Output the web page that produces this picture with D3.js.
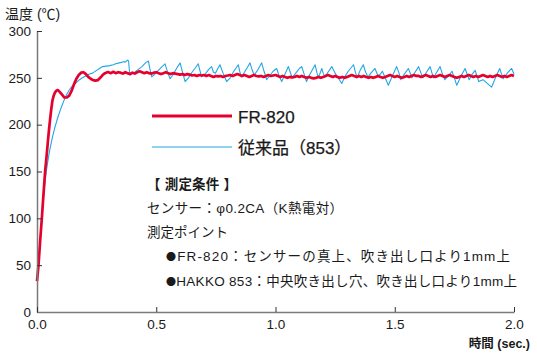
<!DOCTYPE html>
<html>
<head>
<meta charset="utf-8">
<script src="https://cdn.jsdelivr.net/npm/d3@7"></script>
<style>
  html, body { margin: 0; padding: 0; background: #fff; }
  svg { display: block; }
  text { font-family: "Liberation Sans", Arial, "Noto Sans CJK JP", sans-serif; fill: #1a1a1a; }
</style>
</head>
<body>
<svg id="chart" width="537" height="354"></svg>
<script>
// ---------------- data ----------------
const yTicks = [0, 50, 100, 150, 200, 250, 300];
const xTicks = [0, 0.5, 1.0, 1.5, 2.0];
const yTitle = "温度 (℃)";
const xTitle = "時間 (sec.)";
const seriesNames = ["FR-820", "従来品（853）"];

// FR-820 : warm-up part as [time(s), temp]
const redStart = [
  [0, 33], [0.006, 49], [0.013, 75], [0.02, 99], [0.027, 125], [0.034, 150],
  [0.04, 166], [0.045, 180], [0.05, 194], [0.055, 206], [0.06, 217], [0.065, 226],
  [0.07, 231], [0.075, 234], [0.08, 236], [0.087, 237], [0.095, 235], [0.105, 232],
  [0.115, 229], [0.125, 229], [0.135, 231], [0.145, 236], [0.155, 243], [0.165, 249],
  [0.175, 253], [0.185, 255.5], [0.195, 256], [0.205, 254], [0.215, 251], [0.225, 249],
  [0.235, 247.5], [0.245, 247], [0.255, 247.5], [0.265, 250], [0.275, 253], [0.285, 255],
  [0.295, 256]
];
// FR-820 : steady part, sampled every 0.01 s from 0.30 s to 2.00 s
const redTailStart = 0.30, redTailStep = 0.01;
const redTail = [
  256,255,256.5,255,256,255.5,254.5,256,255,254,
  255.5,254.5,256,257,256,255,256,255,254.5,255.5,
  256,255,254,255,256,255,254,255,254.5,254,
  253.5,254,253,254,253.5,252.5,253,252,253,252.5,
  253,252,253,252,251,252,251.5,252,251,252,
  252.5,253,252,253,254,253,252,253,252,251,
  252,253,252,251.5,252,251,252,253,252,252.5,
  253,252,251,252,251,250,251,250.5,251,252,
  251,252,251,250,251,250,249.5,250,251,250,
  251,252,253,252,251,252,251,250,251,250,
  251,252,253,252,251,252,251,252,251,250,
  251,250,251,252,251,250,251,252,253,252,
  251,252,251,250,251,252,251,252,253,252,
  252,251,252,253,252,251,252,251,252,253,
  252,251,252,253,252,251,250,251,252,251,
  252,253,252,251,252,251,252,253,252,251,
  252,251,252,253,252,251,252,251,252,253,
  252
];
// 従来品 (853) : [time(s), temp]
const blue = [
  [0, 33], [0.006, 49], [0.013, 75], [0.02, 99], [0.027, 122], [0.034, 140], [0.04, 152],
  [0.048, 165], [0.055, 175], [0.065, 187], [0.075, 197], [0.085, 206], [0.097, 215],
  [0.11, 224], [0.122, 231], [0.135, 237], [0.15, 242], [0.165, 245], [0.178, 248],
  [0.19, 250], [0.205, 252], [0.22, 254], [0.233, 255], [0.25, 258], [0.262, 260],
  [0.275, 262], [0.29, 262.5], [0.305, 263], [0.32, 264], [0.33, 265], [0.345, 266],
  [0.36, 267], [0.372, 267], [0.38, 269], [0.384, 268], [0.389, 253], [0.395, 254],
  [0.41, 256], [0.425, 259], [0.44, 262], [0.455, 266], [0.467, 268], [0.473, 260],
  [0.481, 251], [0.49, 253], [0.505, 257], [0.52, 261], [0.537, 265], [0.545, 258],
  [0.558, 249], [0.57, 253], [0.585, 260], [0.6, 266], [0.608, 258], [0.621, 246],
  [0.635, 250], [0.65, 256], [0.665, 261], [0.676, 265], [0.683, 258], [0.69, 251],
  [0.705, 254], [0.72, 259], [0.732, 262], [0.74, 256], [0.748, 255], [0.758, 260],
  [0.767, 264], [0.78, 255], [0.795, 246], [0.81, 250], [0.825, 257], [0.844, 264],
  [0.85, 257], [0.856, 251], [0.87, 256], [0.882, 261], [0.893, 266], [0.9, 260],
  [0.91, 253], [0.925, 258], [0.942, 266], [0.952, 257], [0.963, 248], [0.975, 252],
  [0.99, 257], [1.005, 260], [1.015, 252], [1.026, 246], [1.04, 254], [1.054, 262],
  [1.062, 256], [1.07, 250], [1.085, 255], [1.1, 260], [1.11, 262], [1.12, 254],
  [1.13, 246], [1.145, 254], [1.166, 264], [1.173, 256], [1.18, 250], [1.194, 260],
  [1.2, 255], [1.207, 251], [1.22, 256], [1.236, 262], [1.25, 255], [1.265, 249],
  [1.278, 244], [1.29, 251], [1.305, 257], [1.327, 264], [1.335, 256], [1.342, 250],
  [1.355, 258], [1.368, 264], [1.378, 256], [1.388, 251], [1.4, 255], [1.417, 260],
  [1.43, 252], [1.44, 254], [1.448, 257], [1.46, 250], [1.473, 242], [1.49, 252],
  [1.508, 262], [1.518, 255], [1.525, 248], [1.54, 254], [1.557, 260], [1.565, 255],
  [1.572, 250], [1.585, 256], [1.6, 262], [1.61, 255], [1.618, 250], [1.633, 256],
  [1.648, 262], [1.655, 256], [1.662, 250], [1.676, 256], [1.69, 262], [1.7, 254],
  [1.71, 248], [1.725, 252], [1.74, 257], [1.75, 250], [1.76, 242], [1.778, 252],
  [1.795, 260], [1.805, 253], [1.812, 248], [1.825, 254], [1.837, 258], [1.845, 252],
  [1.852, 246], [1.87, 248], [1.888, 244], [1.906, 240], [1.922, 250], [1.94, 260],
  [1.948, 254], [1.955, 249], [1.972, 255], [1.99, 260], [2.0, 254]
];
const noteBullets = ["", "", "", "●", "●"];
const noteLines = [
  "【 測定条件 】",
  "センサー：φ0.2CA（K熱電対）",
  "測定ポイント",
  "FR-820：センサーの真上、吹き出し口より1mm上",
  "HAKKO 853：中央吹き出し穴、吹き出し口より1mm上"
];

// ---------------- drawing ----------------
const RED = "#e5002e", BLUE = "#22a6e6", AXIS = "#7a7a7a";
const svg = d3.select("#chart");
const x = d3.scaleLinear().domain([0, 2]).range([37, 514]);
const y = d3.scaleLinear().domain([0, 300]).range([312, 31]);

const red = redStart.concat(redTail.map((v, i) => [redTailStart + i * redTailStep, v]));

const line = d3.line().x(d => x(d[0])).y(d => y(d[1]));

svg.append("path").datum(blue)
  .attr("d", line).attr("fill", "none")
  .attr("stroke", BLUE).attr("stroke-width", 1.1).attr("stroke-linejoin", "round");
svg.append("path").datum(red)
  .attr("d", line).attr("fill", "none")
  .attr("stroke", RED).attr("stroke-width", 2.7).attr("stroke-linejoin", "round");

// axes
const yAxis = d3.axisLeft(y).tickValues(yTicks).tickSizeInner(-5).tickSizeOuter(0).tickPadding(6);
const xAxis = d3.axisBottom(x).tickValues(xTicks).tickSizeInner(-5).tickSizeOuter(0).tickPadding(6)
  .tickFormat(d3.format(".1f"));

const gy = svg.append("g").attr("transform", `translate(${x(0)},0)`).call(yAxis);
const gx = svg.append("g").attr("transform", `translate(0,${y(0)})`).call(xAxis);
[gx, gy].forEach(g => {
  g.select(".domain").attr("stroke", AXIS).attr("stroke-width", 1.5);
  g.selectAll(".tick line").attr("stroke", "#333").attr("stroke-width", 1);
  g.selectAll(".tick text").attr("font-size", 13.5).attr("fill", "#1a1a1a")
    .attr("font-family", '"Liberation Sans", Arial, sans-serif');
});
gx.selectAll(".tick text").attr("dy", "0.78em");

// titles
svg.append("text").attr("x", 5).attr("y", 19).attr("font-size", 14).text(yTitle);
svg.append("text").attr("x", 530).attr("y", 348).attr("text-anchor", "end")
  .attr("font-size", 12.5).attr("font-weight", "bold").text(xTitle);

// legend
const legendY = [116, 147];
const legendColor = [RED, BLUE];
const legendW = [3, 1.1];
seriesNames.forEach((name, i) => {
  svg.append("line").attr("x1", 152).attr("x2", 232).attr("y1", legendY[i]).attr("y2", legendY[i])
    .attr("stroke", legendColor[i]).attr("stroke-width", legendW[i]);
  svg.append("text").attr("x", 238).attr("y", legendY[i] + 6.5).attr("font-size", 17)
    .attr("stroke", "#1a1a1a").attr("stroke-width", 0.25).text(name);
});

// notes
const noteX = [147, 147, 147, 166, 166];
const noteY = [189, 213, 237, 261, 286];
const noteW = [90, 196, 81, 344, 351];
noteLines.forEach((t, i) => {
  const tx = svg.append("text").attr("x", noteX[i]).attr("y", noteY[i]).attr("font-size", 13.5)
    .attr("font-weight", i === 0 ? "bold" : "normal")
    .attr("textLength", noteW[i]).attr("lengthAdjust", "spacing");
  if (noteBullets[i]) {
    tx.append("tspan").attr("font-family", '"Noto Sans CJK JP", sans-serif')
      .attr("font-size", 10).attr("dy", -0.5).text(noteBullets[i]);
    tx.append("tspan").attr("dy", 0.5).text(t);
  } else {
    tx.text(t);
  }
});
</script>
</body>
</html>
